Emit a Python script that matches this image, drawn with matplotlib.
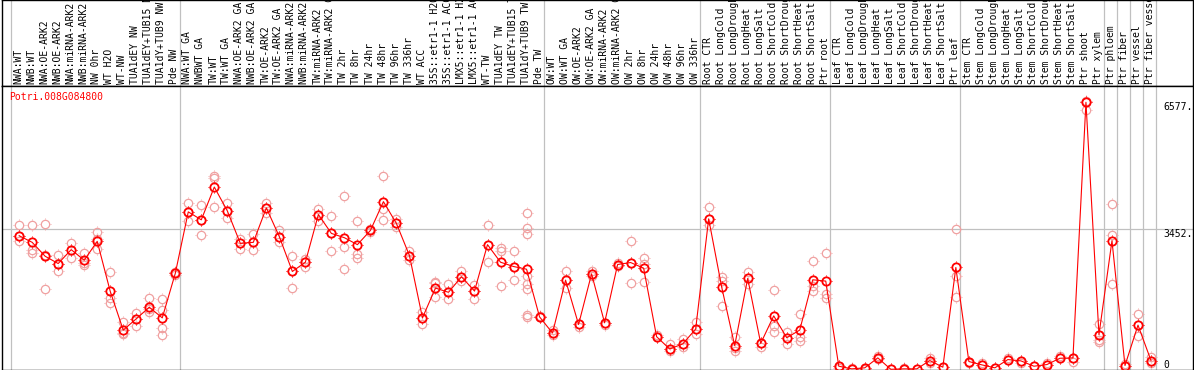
import matplotlib
matplotlib.use("Agg")
import matplotlib.pyplot as plt
from matplotlib.path import Path

gene = "Potri.008G084800"

samples = [
    "NWA:WT", "NWB:WT", "NWA:OE-ARK2", "NWB:OE-ARK2", "NWA:miRNA-ARK2", "NWB:miRNA-ARK2",
    "NW 0hr", "WT H2O", "WT-NW", "TUA1dEY NW", "TUA1dEY+TUB15 NW", "TUA1dY+TUB9 NW", "Pde NW",
    "NWA:WT GA", "NWBWT GA", "TW:WT", "TW:WT GA", "NWA:OE-ARK2 GA", "NWB:OE-ARK2 GA",
    "TW:OE-ARK2", "TW:OE-ARK2 GA", "NWA:miRNA-ARK2 GA", "NWB:miRNA-ARK2 GA", "TW:miRNA-ARK2",
    "TW:miRNA-ARK2 GA", "TW 2hr", "TW 8hr", "TW 24hr", "TW 48hr", "TW 96hr", "TW 336hr",
    "WT ACC", "35S::etr1-1 H2O", "35S::etr1-1 ACC", "LMX5::etr1-1 H2O", "LMX5::etr1-1 ACC",
    "WT-TW", "TUA1dEY TW", "TUA1dEY+TUB15 TW", "TUA1dY+TUB9 TW", "Pde TW",
    "OW:WT", "OW:WT GA", "OW:OE-ARK2", "OW:OE-ARK2 GA", "OW:miRNA-ARK2", "OW:miRNA-ARK2 GA",
    "OW 2hr", "OW 8hr", "OW 24hr", "OW 48hr", "OW 96hr", "OW 336hr",
    "Root CTR", "Root LongCold", "Root LongDrought", "Root LongHeat", "Root LongSalt",
    "Root ShortCold", "Root ShortDrought", "Root ShortHeat", "Root ShortSalt", "Ptr root",
    "Leaf CTR", "Leaf LongCold", "Leaf LongDrought", "Leaf LongHeat", "Leaf LongSalt",
    "Leaf ShortCold", "Leaf ShortDrought", "Leaf ShortHeat", "Leaf ShortSalt", "Ptr leaf",
    "Stem CTR", "Stem LongCold", "Stem LongDrought", "Stem LongHeat", "Stem LongSalt",
    "Stem ShortCold", "Stem ShortDrought", "Stem ShortHeat", "Stem ShortSalt", "Ptr shoot",
    "Ptr xylem", "Ptr phloem", "Ptr fiber", "Ptr vessel", "Ptr fiber vessel",
]

group_sizes = [13, 28, 12, 10, 10, 11, 1, 1, 1, 1]

means = [
    3293, 3130, 2787, 2608, 2950, 2690, 3154, 1924, 970, 1247, 1533, 1271, 2364,
    3880, 3684, 4491, 3905, 3105, 3130, 3978, 3269, 2413, 2641, 3814, 3350, 3244, 3073,
    3423, 4132, 3594, 2804, 1271, 2005, 1900, 2282, 1932, 3073, 2641, 2535, 2469, 1296,
    897, 2200, 1108, 2355, 1149, 2584, 2633, 2494, 807, 506, 628, 995,
    3709, 2029, 587, 2242, 643, 1320, 782, 970, 2208, 2176,
    81, 16, 41, 286, 5, 16, 16, 220, 57, 2511,
    196, 114, 41, 245, 212, 81, 122, 277, 286, 6577, 856,
    3170, 98, 1092, 220,
]

reps = [
    [3562, 3171, 3293], [3545, 2934, 2868], [3570, 2829, 1980], [2829, 2413, 2608],
    [3105, 2746, 2950], [2861, 2584, 2620], [3374, 3200, 2975], [2396, 1768, 1630],
    [1157, 873, 900], [1386, 1059, 1247], [1760, 1426, 1500], [1736, 1475, 1020, 856],
    [2400, 2330, 2364],
    [4108, 3660, 3880], [4051, 3318, 3684], [4760, 4720, 4002], [4108, 3724, 3905],
    [3220, 2966, 3105], [3325, 2934, 3130], [4091, 3846, 3978], [3423, 3137, 3269],
    [2804, 2005, 2413], [2721, 2535, 2641], [3944, 3660, 3814], [3790, 2910, 3350],
    [4279, 3024, 2469], [3660, 2836, 2746], [3460, 3390, 3423], [4768, 3953, 3684],
    [3700, 3500, 3594], [2910, 2700, 2804], [1418, 1125, 1271], [2159, 2120, 1785],
    [2110, 1743, 1900], [2421, 2176, 2282], [2086, 1728, 1932], [3562, 2658, 3073],
    [2990, 2910, 2046], [2926, 2200, 2535],
    [3855, 3489, 3333, 2291, 2095, 1990, 1337, 1300], [1296, 1310, 1280],
    [960, 840, 897], [2413, 2013, 2200], [1108, 1050], [2355, 2420, 2300], [1149, 1100],
    [2584, 2620, 2550], [3154, 2120, 2633], [2755, 2144, 2494, 2600], [807, 860],
    [628, 460, 506], [751, 560, 628], [1157, 873, 995],
    [4002, 3545, 3709], [2274, 2180, 1565], [790, 465, 520], [2396, 2110, 2242],
    [643, 560], [1948, 1076, 913], [913, 628, 782], [1361, 790, 700], [2665, 2054, 1932],
    [2861, 1851, 1750],
    [81, 40], [16, 30], [41, 20], [330, 250, 286], [5], [16, 30], [16], [286, 170, 220],
    [57], [3455, 2298, 1785],
    [196, 150], [114, 150], [41], [245, 280], [212, 150], [81], [122, 160], [342, 277],
    [286, 190], [6618, 6398, 6577], [1117, 856, 668, 720],
    [4075, 3318, 2095], [98, 140], [1361, 831, 1092], [220, 300, 150],
]

axis_values = [6577, 3452, 0]

# four short ticks sitting just outside the ring marker
ticks = Path([(0, 1), (0, 1.25), (0, -1), (0, -1.25), (1, 0), (1.25, 0), (-1, 0), (-1.25, 0)],
             [Path.MOVETO, Path.LINETO] * 4)
ring_ms = 6.0
tick_ms = ring_ms * 1.25 + 0.8

mono = "DejaVu Sans Mono"
grey = "#c0c0c0"

W, H = 1194, 370
fig = plt.figure(figsize=(W / 100, H / 100), dpi=100)
left, right = 1.5 / W, 1192.5 / W
split = 86
bottom_px = 369.5
ax_lab = fig.add_axes([left, 1 - split / H, right - left, split / H])
ax = fig.add_axes([left, (H - bottom_px) / H, right - left, (bottom_px - split) / H])

xlim = (-0.707, 90.84)
n = len(samples)
xs = [i + 0.65 for i in range(n)]

bounds = [0]
for g in group_sizes:
    bounds.append(bounds[-1] + g)

for a in (ax, ax_lab):
    a.set_xlim(*xlim)
    a.set_xticks([])
    a.set_yticks([])
    for s in a.spines.values():
        s.set_linewidth(1.0)
        s.set_color("black")
    for b in bounds:
        a.axvline(b, color=grey, lw=0.9, zorder=0)

ax_lab.set_ylim(0, 1)
for x, name in zip(xs, samples):
    ax_lab.text(x - 0.07, 0.02, name, rotation=90, ha="center", va="bottom",
                fontsize=7, family=mono, clip_on=True)

ax.set_ylim(0, 6978)
ax.axhline(3452, color=grey, lw=0.9, zorder=0)

rx, ry = [], []
for x, vals in zip(xs, reps):
    for v in vals:
        rx.append(x)
        ry.append(v)

pink = "#f0a0a0"
ax.plot(rx, ry, linestyle="none", marker="o", ms=ring_ms, mfc="none", mec=pink, mew=0.9, zorder=2)
ax.plot(rx, ry, linestyle="none", marker=ticks, ms=tick_ms, mec=pink, mew=0.6, zorder=2)
ax.plot(xs, means, color="red", lw=0.8, zorder=3)
ax.plot(xs, means, linestyle="none", marker="o", ms=ring_ms, mfc="none", mec="red", mew=1.3, zorder=4)
ax.plot(xs, means, linestyle="none", marker=ticks, ms=tick_ms, mec="red", mew=0.7, zorder=4)

for v in axis_values:
    ax.text(88.57, v, f"{v}." if v else "0", va="top" if v else "bottom",
            ha="left", fontsize=7, family=mono)

ax.text(0.0063, 0.962, gene, transform=ax.transAxes, color="red", fontsize=7,
        family=mono, va="center", ha="left")

fig.savefig("out.png", dpi=100)
